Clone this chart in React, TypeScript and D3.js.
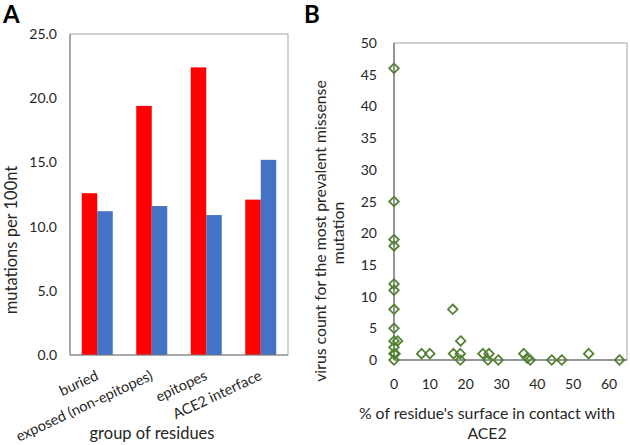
import React from "react";
import * as d3 from "d3";

const categories = ["buried", "exposed (non-epitopes)", "epitopes", "ACE2 interface"];
const seriesRed = [12.6, 19.4, 22.4, 12.1];
const seriesBlue = [11.2, 11.6, 10.9, 15.2];
const yTicksA = [0, 5, 10, 15, 20, 25];

const scatterX = [0, 0, 0, 0, 0, 0, 0, 0, 0, 1, 0, 0, 0.3, 0, 7.7, 10, 16.4, 16.6, 18.6, 18.5, 18.5, 24.8, 26.5, 26.2, 29.1, 36.2, 37.2, 38, 44, 46.8, 54.3, 62.9];
const scatterY = [46, 25, 19, 18, 12, 11, 8, 5, 3, 3, 2, 1, 1, 0, 1, 1, 8, 1, 3, 1, 0, 1, 1, 0, 0, 1, 0.3, 0, 0, 0, 1, 0];
const xTicksB = [0, 10, 20, 30, 40, 50, 60];
const yTicksB = [0, 5, 10, 15, 20, 25, 30, 35, 40, 45, 50];

const FONT = "Lato, 'Open Sans', sans-serif";
const TXT = "#262626";

export default function App() {
  // Panel A
  const aL = 70, aR = 288, aT = 34, aB = 355;
  const xA = d3.scaleBand<string>().domain(categories).range([aL, aR]).paddingInner(0.431).paddingOuter(0.2155);
  const inner = d3.scaleBand<string>().domain(["red", "blue"]).range([0, xA.bandwidth()]);
  const yA = d3.scaleLinear().domain([0, 25]).range([aB, aT]);
  const fmt = d3.format(".1f");

  // Panel B
  const bL = 394, bR = 627, bT = 43, bB = 360;
  const xB = d3.scaleLinear().domain([0, 65]).range([bL, bR]);
  const yB = d3.scaleLinear().domain([0, 50]).range([bB, bT]);
  const diamond = d3.symbol().type(d3.symbolDiamond2).size(58)();

  return (
    <svg width={630} height={445} style={{ position: "absolute", left: 0, top: 0, background: "#fff" }} fontFamily={FONT}>
      <rect x={0} y={0} width={630} height={445} fill="#fff" />
      {/* Panel A */}
      <text x={3} y={23} fontSize={24} fontWeight="bold" fill="#000">A</text>
      <rect x={aL} y={aT} width={aR - aL} height={aB - aT} fill="none" stroke="#a6a6a6" strokeWidth={1} />
      {categories.map((c, i) => (
        <g key={c}>
          <rect x={xA(c)! + inner("red")!} y={yA(seriesRed[i])} width={inner.bandwidth()} height={aB - yA(seriesRed[i])} fill="#ff0000" />
          <rect x={xA(c)! + inner("blue")!} y={yA(seriesBlue[i])} width={inner.bandwidth()} height={aB - yA(seriesBlue[i])} fill="#4472c4" />
        </g>
      ))}
      <line x1={aL} x2={aL} y1={aT} y2={aB} stroke="#7f7f7f" />
      <line x1={aL} x2={aR} y1={aB} y2={aB} stroke="#7f7f7f" />
      {yTicksA.map(t => (
        <text key={t} x={57} y={yA(t) + 5} fontSize={14} textAnchor="end" fill={TXT}>{fmt(t)}</text>
      ))}
      {categories.map(c => (
        <text key={c} transform={`translate(${xA(c)! + xA.bandwidth() / 2 + 2},379) rotate(-25)`} fontSize={14.5} textAnchor="end" fill={TXT}>{c}</text>
      ))}
      <text x={152} y={439} fontSize={16.5} textAnchor="middle" fill={TXT}>group of residues</text>
      <text transform="translate(17,240) rotate(-90)" fontSize={16.5} textAnchor="middle" fill={TXT}>mutations per 100nt</text>

      {/* Panel B */}
      <text x={304} y={23} fontSize={24} fontWeight="bold" fill="#000">B</text>
      <rect x={bL} y={bT} width={bR - bL} height={bB - bT} fill="none" stroke="#a6a6a6" strokeWidth={1} />
      <line x1={bL} x2={bL} y1={bT} y2={bB} stroke="#595959" />
      <line x1={bL} x2={bR} y1={bB} y2={bB} stroke="#595959" />
      {yTicksB.map(t => (
        <text key={t} x={377} y={yB(t) + 5} fontSize={14} textAnchor="end" fill={TXT}>{t}</text>
      ))}
      {xTicksB.map(t => (
        <text key={t} x={xB(t)} y={389} fontSize={14} textAnchor="middle" fill={TXT}>{t}</text>
      ))}
      {scatterX.map((x, i) => (
        <path key={i} d={diamond} transform={`translate(${xB(x)},${yB(scatterY[i])})`} fill="none" stroke="#548235" strokeWidth={1.8} />
      ))}
      <text x={487} y={419} fontSize={15.8} textAnchor="middle" fill={TXT}>% of residue's surface in contact with</text>
      <text x={487} y={439} fontSize={15.8} textAnchor="middle" fill={TXT}>ACE2</text>
      <text transform="translate(326,231) rotate(-90)" fontSize={15.8} textAnchor="middle" fill={TXT}>virus count for the most prevalent missense</text>
      <text transform="translate(344,233) rotate(-90)" fontSize={15.8} textAnchor="middle" fill={TXT}>mutation</text>
    </svg>
  );
}
